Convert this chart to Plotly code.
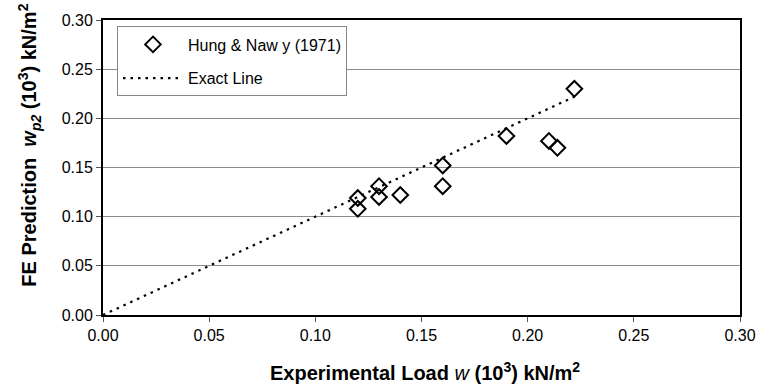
import plotly.graph_objects as go

# Data
hung_x = [0.12, 0.12, 0.13, 0.13, 0.14, 0.16, 0.16, 0.19, 0.21, 0.214, 0.222]
hung_y = [0.119, 0.108, 0.131, 0.120, 0.122, 0.152, 0.131, 0.182, 0.177, 0.170, 0.230]
exact_x = [0.0, 0.12, 0.13, 0.14, 0.16, 0.19, 0.21, 0.222]
exact_y = [0.0, 0.12, 0.13, 0.14, 0.16, 0.19, 0.21, 0.222]
tick_vals = [0.0, 0.05, 0.10, 0.15, 0.20, 0.25, 0.30]
tick_text = ["0.00", "0.05", "0.10", "0.15", "0.20", "0.25", "0.30"]

FONT = "Liberation Sans, Arial, sans-serif"

fig = go.Figure()
fig.add_trace(go.Scatter(
    x=hung_x, y=hung_y, mode="markers", name="Hung & Naw y (1971)",
    legendgroup="a",
    marker=dict(symbol="diamond-open", size=12, color="black", line=dict(width=2, color="black")),
))
fig.add_trace(go.Scatter(
    x=exact_x, y=exact_y, mode="lines", name="Exact Line",
    legendgroup="b",
    line=dict(color="black", width=2.2, dash="2.5px,5px"),
))

axis_common = dict(
    range=[0, 0.30], tickvals=tick_vals, ticktext=tick_text,
    showline=True, linecolor="black", linewidth=2, mirror=True,
    ticks="outside", ticklen=5, tickcolor="#555", tickwidth=1,
    tickfont=dict(family=FONT, size=16, color="black"),
    zeroline=False,
)
fig.update_xaxes(**axis_common, showgrid=False)
fig.update_yaxes(**axis_common, showgrid=True, gridcolor="#8c8c8c", gridwidth=1)

fig.update_layout(
    width=768, height=389,
    margin=dict(l=103, r=17, t=16, b=74),
    paper_bgcolor="white", plot_bgcolor="white",
    font=dict(family=FONT, color="black"),
    showlegend=True,
    legend=dict(
        x=0.022, y=0.978, xanchor="left", yanchor="top",
        bgcolor="white", bordercolor="#888", borderwidth=1,
        font=dict(family=FONT, size=16, color="black"),
        itemwidth=60, traceorder="grouped", tracegroupgap=10,
    ),
    annotations=[
        dict(text="<b>FE Prediction  <i>w</i><sub><i>p2</i></sub> (10<sup>3</sup>) kN/m<sup>2</sup></b>",
             xref="paper", yref="paper", x=-0.1157, y=0.575, textangle=-90,
             xanchor="center", yanchor="middle", showarrow=False,
             font=dict(family=FONT, size=20, color="black")),
        dict(text="<b>Experimental Load </b><i>w</i><b> (10<sup>3</sup>) kN/m<sup>2</sup></b>",
             xref="paper", yref="paper", x=0.506, y=-0.19,
             xanchor="center", yanchor="middle", showarrow=False,
             font=dict(family=FONT, size=20, color="black")),
    ],
)

fig.write_html("out.html")
